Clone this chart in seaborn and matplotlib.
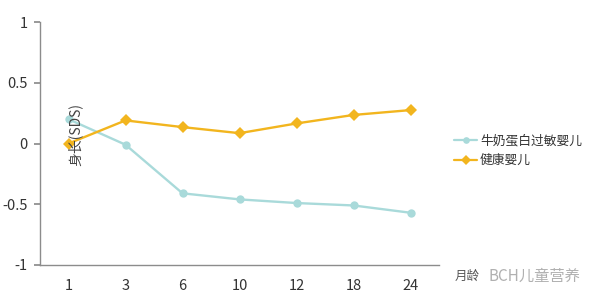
import matplotlib
matplotlib.use("Agg")
import matplotlib.pyplot as plt
import seaborn as sns
import pandas as pd

months = ["1", "3", "6", "10", "12", "18", "24"]
allergy = [0.20, -0.01, -0.41, -0.46, -0.49, -0.51, -0.57]
healthy = [0.00, 0.19, 0.135, 0.085, 0.165, 0.235, 0.275]
series_names = ["牛奶蛋白过敏婴儿", "健康婴儿"]
y_ticks = [-1, -0.5, 0, 0.5, 1]
y_tick_labels = ["-1", "-0.5", "0", "0.5", "1"]

sns.set_theme(style="white")
plt.rcParams['font.family'] = ['Noto Sans CJK SC', 'DejaVu Sans']

df = pd.DataFrame({
    "月龄": months * 2,
    "值": allergy + healthy,
    "组": [series_names[0]] * len(months) + [series_names[1]] * len(months),
})

fig = plt.figure(figsize=(6.0, 3.03), dpi=100)
ax = fig.add_axes([40/600, 1-265/303, 399/600, 243/303])

blue = "#a9dada"
yellow = "#f2b51e"
sns.lineplot(data=df, x="月龄", y="值", hue="组", style="组",
             palette=[blue, yellow], markers=["o", "D"], dashes=False,
             markersize=6, linewidth=1.7, markeredgewidth=0, ax=ax, sort=False)

ax.set_ylim(-1, 1)
ax.set_xlim(-0.5, len(months) - 0.5)
ax.set_yticks(y_ticks)
ax.set_yticklabels(y_tick_labels)
ax.set_xlabel("")
ax.set_ylabel("")
for s in ["top", "right"]:
    ax.spines[s].set_visible(False)
for s in ["left", "bottom"]:
    ax.spines[s].set_color("#8c8c8c")
    ax.spines[s].set_linewidth(1)
ax.tick_params(axis="y", which="both", left=True, length=4, color="#8c8c8c",
               labelsize=10.5, labelcolor="#333333", pad=5)
ax.tick_params(axis="x", bottom=False, labelsize=10.5, labelcolor="#333333", pad=4)

ax.text(0.11, 0.07, "身长(SDS)", rotation=90, fontsize=10, color="#444444",
        ha="center", va="center", rotation_mode="anchor")

leg = ax.legend(loc="center left", bbox_to_anchor=(1.01, 0.47), frameon=False,
                fontsize=9.2, handlelength=1.8, labelspacing=0.55, handletextpad=0.2,
                markerscale=0.8)
for t in leg.get_texts():
    t.set_color("#333333")
for h in leg.legend_handles:
    h.set_linewidth(1.6)

fig.text(455/600, 1-276/303, "月龄", fontsize=9, color="#555555", ha="left", va="center")
fig.text(489/600, 1-276/303, "BCH儿童营养", fontsize=11, color="#b0b0b0", ha="left", va="center")

fig.savefig("out.png", dpi=100)
